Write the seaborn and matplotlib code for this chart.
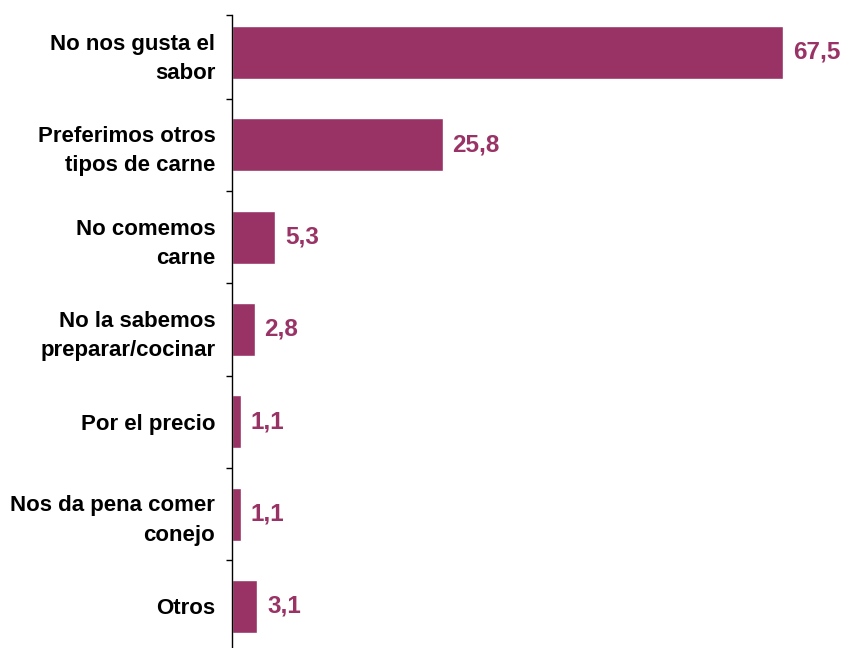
import matplotlib
matplotlib.use("Agg")
import matplotlib.pyplot as plt
import seaborn as sns
import pandas as pd

categories = [
    "No nos gusta el\nsabor",
    "Preferimos otros\ntipos de carne",
    "No comemos\ncarne",
    "No la sabemos\npreparar/cocinar",
    "Por el precio",
    "Nos da pena comer\nconejo",
    "Otros",
]
values = [67.5, 25.8, 5.3, 2.8, 1.1, 1.1, 3.1]
value_labels = ["67,5", "25,8", "5,3", "2,8", "1,1", "1,1", "3,1"]

bar_color = "#993366"

sns.set_theme(style="white")
plt.rcParams["font.family"] = ["Liberation Sans", "DejaVu Sans"]

df = pd.DataFrame({"motivo": categories, "pct": values})

W, H = 842, 648
fig = plt.figure(figsize=(W / 100, H / 100), dpi=100)

x0_px, x_scale = 232, (783 - 232) / 67.5
xmax = 75
top_px, bottom_px = 15, 648
center0, step = 52.5, 92.3
ax = fig.add_axes([x0_px / W, 1 - bottom_px / H,
                   x_scale * xmax / W, (bottom_px - top_px) / H])

sns.barplot(data=df, x="pct", y="motivo", orient="h", color=bar_color,
            width=53 / step, saturation=1, ax=ax)

ax.set_xlim(0, xmax)
ax.set_ylim((bottom_px - center0) / step, (top_px - center0) / step)

for i, (v, lab) in enumerate(zip(values, value_labels)):
    ax.annotate(lab, xy=(v, i), xytext=(7, 0), textcoords="offset points",
                ha="left", va="center", fontsize=17.5, fontweight="bold",
                color=bar_color)

ax.set_xlabel("")
ax.set_ylabel("")
ax.set_xticks([])
for s in ["top", "right", "bottom"]:
    ax.spines[s].set_visible(False)
ax.spines["left"].set_color("black")
ax.spines["left"].set_linewidth(1.0)

ax.set_yticks(range(len(categories)))
ax.set_yticklabels(categories, fontsize=16, fontweight="bold",
                   linespacing=1.5, ha="right")
ax.tick_params(axis="y", which="major", length=0, pad=12, colors="black")
ax.set_yticks([(top_px - center0) / step] + [i + 0.5 for i in range(len(categories) - 1)],
              minor=True)
ax.tick_params(axis="y", which="minor", length=4, width=1.0, direction="out",
               color="black", left=True)

fig.savefig("out.png", dpi=100, facecolor="white")
